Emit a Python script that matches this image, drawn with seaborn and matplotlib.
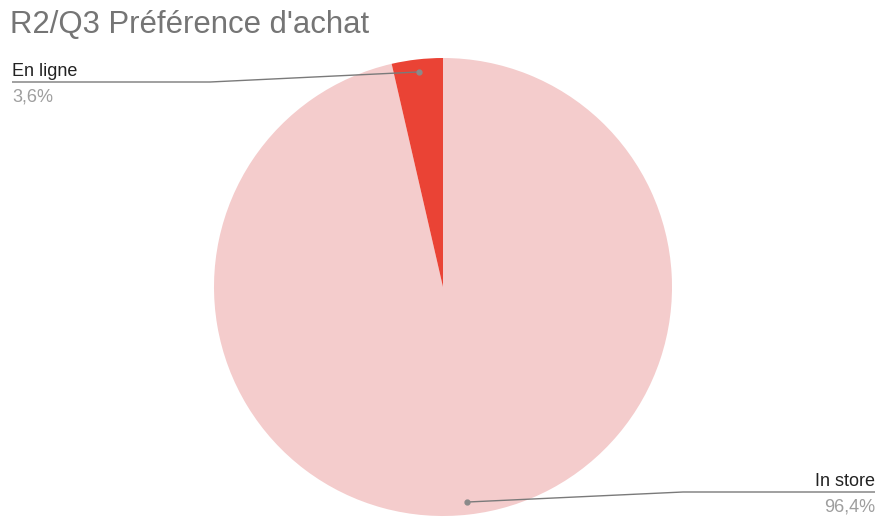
import matplotlib
matplotlib.use("Agg")
import matplotlib.pyplot as plt
import seaborn as sns
import numpy as np

# Purchase preference shares (percent)
categories = ["In store", "En ligne"]
shares = [96.4, 3.6]
share_labels = ["96,4%", "3,6%"]
colors = ["#F4CCCC", "#EA4335"]
title = "R2/Q3 Préférence d'achat"

sns.set_theme(style="white")
plt.rcParams["font.family"] = ["Liberation Sans", "DejaVu Sans"]

W, H = 880, 518
fig = plt.figure(figsize=(W / 100, H / 100), dpi=100)
ax = fig.add_axes([0, 0, 1, 1])

cx, cy, R = 443, H - 287, 229
wedges, _ = ax.pie(shares, colors=colors, startangle=90, counterclock=False,
                   center=(cx, cy), radius=R, frame=True,
                   wedgeprops=dict(linewidth=0))
ax.set_xlim(0, W)
ax.set_ylim(0, H)
ax.set_aspect("equal")
ax.axis("off")

fig.text(10 / W, 1 - 33 / H, title, fontsize=22.4, color="#757575",
         ha="left", va="baseline")

# Leader lines from slice midpoints to the side labels
line_color = "#7a7a7a"
label_specs = {
    "In store": dict(elbow_x=683, end_x=875, y=H - 492, ha="right"),
    "En ligne": dict(elbow_x=210, end_x=12, y=H - 82, ha="left"),
}
for w, name, lab in zip(wedges, categories, share_labels):
    mid = np.deg2rad((w.theta1 + w.theta2) / 2)
    px = cx + 0.945 * R * np.cos(mid)
    py = cy + 0.945 * R * np.sin(mid)
    s = label_specs[name]
    ax.plot([px, s["elbow_x"], s["end_x"]], [py, s["y"], s["y"]],
            color=line_color, lw=1.0, solid_capstyle="butt", zorder=3)
    ax.plot(px, py, "o", ms=3.5, color="#8a8a8a", zorder=4)
    ax.text(s["end_x"], s["y"] + 6, name, fontsize=13, color="#222222",
            ha=s["ha"], va="baseline")
    ax.text(s["end_x"], s["y"] - 20, lab, fontsize=13, color="#9e9e9e",
            ha=s["ha"], va="baseline")

fig.savefig("out.png", dpi=100, facecolor="white")
